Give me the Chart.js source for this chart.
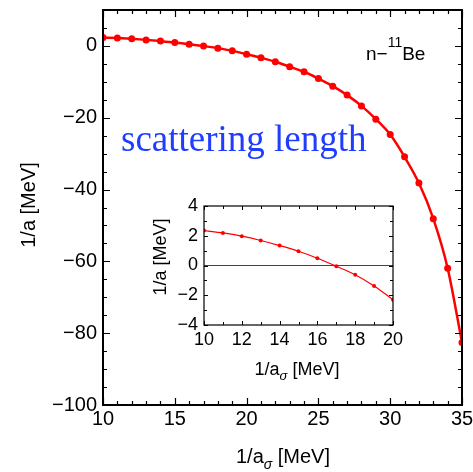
<!DOCTYPE html>
<html>
<head>
<meta charset="utf-8">
<script src="https://cdn.jsdelivr.net/npm/chart.js@4.4.1/dist/chart.umd.min.js"></script>
<style>
    html, body { margin: 0; padding: 0; background: #fff; }
    #wrap { position: relative; width: 473px; height: 472px; overflow: hidden; }
    #main { position: absolute; left: 0; top: 0; }
    #inset { position: absolute; left: 140px; top: 190px; }
</style>
</head>
<body>
<div id="wrap">
    <canvas id="main" width="473" height="472"></canvas>
    <canvas id="inset" width="265" height="195"></canvas>
</div>
<script>
// 1/a_sigma [MeV]
const invASigma = [10, 11, 12, 13, 14, 15, 16, 17, 18, 19, 20, 21, 22,
                   23, 24, 25, 26, 27, 28, 29, 30, 31, 32, 33, 34, 35];
// 1/a [MeV]
const invA = [2.35, 2.19, 1.97, 1.68, 1.34, 0.96, 0.49, -0.05, -0.62, -1.38, -2.3, -3.3, -4.4,
              -5.8, -7.2, -9.1, -11.2, -13.7, -16.7, -20.4, -24.7, -30.9, -38.2, -48.1, -61.9, -82.6];

const mainXTicks = [10, 15, 20, 25, 30, 35];
const mainYTicks = [-100, -80, -60, -40, -20, 0];
const insetXTicks = [10, 12, 14, 16, 18, 20];
const insetYTicks = [-4, -2, 0, 2, 4];
const insetCount = 11; // inset shows 1/a_sigma = 10 .. 20

const SANS = '"Liberation Sans", Arial, Helvetica, sans-serif';
const SERIF = '"Liberation Serif", "Times New Roman", serif';
const RED = "#ff0000";

const minus = (v) => String(v).replace("-", "\u2212");
const fixTicks = (arr) => (s) => { s.ticks = arr.map(v => ({ value: v })); };
const toPoints = (n) => invASigma.slice(0, n).map((x, i) => ({ x: x, y: invA[i] }));

// frame with inward ticks on all four sides (Mathematica style)
const frameTicks = {
    id: "frameTicks",
    afterDatasetsDraw(chart, args, o) {
        const { ctx, chartArea: a, scales: { x, y } } = chart;
        ctx.save();
        ctx.strokeStyle = "#000";
        ctx.lineWidth = o.tickWidth;
        ctx.beginPath();
        for (let v = x.min; v <= x.max + 1e-9; v += o.xMinor) {
            const len = o.xMajor.includes(Math.round(v * 100) / 100) ? o.major : o.minor;
            const px = Math.round(x.getPixelForValue(v)) + 0.5;
            ctx.moveTo(px, a.bottom); ctx.lineTo(px, a.bottom - len);
            ctx.moveTo(px, a.top); ctx.lineTo(px, a.top + len);
        }
        for (let v = y.min; v <= y.max + 1e-9; v += o.yMinor) {
            const len = o.yMajor.includes(Math.round(v * 100) / 100) ? o.major : o.minor;
            const py = Math.round(y.getPixelForValue(v)) + 0.5;
            ctx.moveTo(a.left, py); ctx.lineTo(a.left + len, py);
            ctx.moveTo(a.right, py); ctx.lineTo(a.right - len, py);
        }
        ctx.stroke();
        ctx.lineWidth = o.frameWidth;
        ctx.strokeRect(a.left, a.top, a.right - a.left, a.bottom - a.top);
        ctx.restore();
    }
};

// axis titles: "1/a_σ [MeV]" below and "1/a [MeV]" rotated on the left
const axisTitles = {
    id: "axisTitles",
    afterDraw(chart, args, o) {
        const { ctx } = chart;
        const fs = o.size;
        ctx.save();
        ctx.fillStyle = "#000";
        ctx.textBaseline = "alphabetic";
        ctx.textAlign = "left";

        // x title with subscript sigma
        const big = fs + "px " + SANS;
        const small = "italic " + Math.round(fs * 0.72) + "px " + SANS;
        ctx.font = big;
        const w1 = ctx.measureText("1/a").width;
        const w3 = ctx.measureText(" [MeV]").width;
        ctx.font = small;
        const w2 = ctx.measureText("\u03c3").width;
        let x0 = o.xCenter - (w1 + w2 + w3) / 2;
        ctx.font = big;
        ctx.fillText("1/a", x0, o.xBaseline);
        ctx.font = small;
        ctx.fillText("\u03c3", x0 + w1, o.xBaseline + fs * 0.3);
        ctx.font = big;
        ctx.fillText(" [MeV]", x0 + w1 + w2, o.xBaseline);

        // y title
        ctx.translate(o.yBaseline, o.yCenter);
        ctx.rotate(-Math.PI / 2);
        ctx.textAlign = "center";
        ctx.fillText("1/a [MeV]", 0, 0);
        ctx.restore();
    }
};

// text labels on the main plot
const annotations = {
    id: "annotations",
    afterDraw(chart) {
        const ctx = chart.ctx;
        ctx.save();
        ctx.textBaseline = "alphabetic";
        ctx.textAlign = "left";
        ctx.fillStyle = "#000";
        ctx.font = "19px " + SANS;
        let x = 366;
        ctx.fillText("n\u2212", x, 60);
        x += ctx.measureText("n\u2212").width;
        ctx.font = "14px " + SANS;
        ctx.fillText("11", x, 47);
        x += ctx.measureText("11").width;
        ctx.font = "19px " + SANS;
        ctx.fillText("Be", x, 60);

        ctx.fillStyle = "#1f3dff";
        ctx.font = "37px " + SERIF;
        ctx.fillText("scattering length", 121, 151);
        ctx.restore();
    }
};

function axis(min, max, ticks, pad, fit, fontSize) {
    return {
        type: "linear",
        min: min,
        max: max,
        afterBuildTicks: fixTicks(ticks),
        grid: { display: false, drawTicks: false },
        border: { display: false },
        ticks: {
            color: "#000",
            font: { family: SANS, size: fontSize },
            padding: pad,
            autoSkip: false,
            maxRotation: 0,
            callback: (v) => minus(v)
        },
        afterFit: (s) => {
            if (s.isHorizontal()) s.height = fit; else s.width = fit;
            s.paddingTop = 0; s.paddingBottom = 0; s.paddingLeft = 0; s.paddingRight = 0;
        }
    };
}

new Chart(document.getElementById("main"), {
    type: "line",
    data: {
        datasets: [{
            data: toPoints(invASigma.length),
            borderColor: RED,
            backgroundColor: RED,
            borderWidth: 2.5,
            pointRadius: 3.5,
            pointBorderWidth: 0,
            cubicInterpolationMode: "monotone",
            clip: 0
        }]
    },
    options: {
        responsive: false,
        animation: false,
        events: [],
        layout: { padding: { top: 10, right: 11, left: 0, bottom: 0 } },
        plugins: {
            legend: { display: false },
            tooltip: { enabled: false },
            frameTicks: { xMajor: mainXTicks, yMajor: mainYTicks, xMinor: 1, yMinor: 5,
                          major: 7, minor: 4, tickWidth: 1.2, frameWidth: 2 },
            axisTitles: { size: 20, xCenter: 283, xBaseline: 463, yBaseline: 35, yCenter: 205 }
        },
        scales: {
            x: axis(10, 35, mainXTicks, 2, 67, 20),
            y: axis(-100, 10, mainYTicks, 6, 103, 20)
        }
    },
    plugins: [frameTicks, axisTitles, annotations]
});

new Chart(document.getElementById("inset"), {
    type: "line",
    data: {
        datasets: [{
            data: toPoints(insetCount),
            borderColor: RED,
            backgroundColor: RED,
            borderWidth: 1.2,
            pointRadius: 2,
            pointBorderWidth: 0,
            cubicInterpolationMode: "monotone",
            clip: 0,
            order: 0
        }, {
            data: [{ x: 10, y: 0 }, { x: 20, y: 0 }],
            borderColor: "#444",
            borderWidth: 1,
            pointRadius: 0,
            order: 1
        }]
    },
    options: {
        responsive: false,
        animation: false,
        events: [],
        layout: { padding: { top: 16, right: 12, left: 0, bottom: 0 } },
        plugins: {
            legend: { display: false },
            tooltip: { enabled: false },
            frameTicks: { xMajor: insetXTicks, yMajor: insetYTicks, xMinor: 1, yMinor: 1,
                          major: 4, minor: 3, tickWidth: 1, frameWidth: 1.2 },
            axisTitles: { size: 18, xCenter: 157, xBaseline: 185, yBaseline: 26, yCenter: 67 }
        },
        scales: {
            x: axis(10, 20, insetXTicks, 4, 60, 18),
            y: axis(-4, 4, insetYTicks, 6, 64, 18)
        }
    },
    plugins: [frameTicks, axisTitles]
});
</script>
</body>
</html>
